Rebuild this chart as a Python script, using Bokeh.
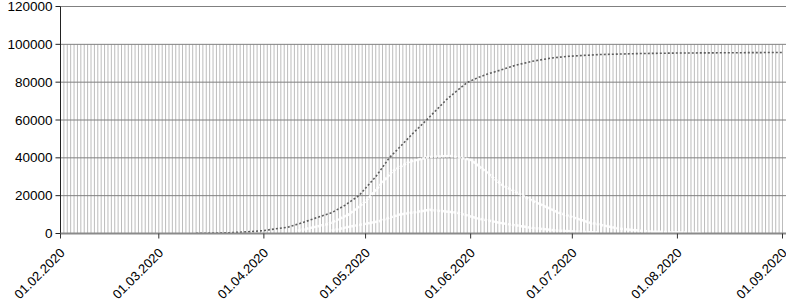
from datetime import datetime, timedelta
import math
import pandas as pd
from bokeh.plotting import figure
from bokeh.models import Range1d, Label
from bokeh.embed import file_html
from bokeh.resources import INLINE

# ---- data ----
cum_dates = ["2020-03-12", "2020-03-17", "2020-03-22", "2020-03-27", "2020-04-01", "2020-04-03",
             "2020-04-08", "2020-04-12", "2020-04-16", "2020-04-21", "2020-04-25", "2020-04-29",
             "2020-05-04", "2020-05-08", "2020-05-11", "2020-05-15", "2020-05-19", "2020-05-25",
             "2020-05-28", "2020-05-31", "2020-06-03", "2020-06-06", "2020-06-10", "2020-06-14",
             "2020-06-19", "2020-06-25", "2020-06-30", "2020-07-09", "2020-07-20", "2020-08-01",
             "2020-09-01"]
cum_values = [100, 200, 400, 900, 1500, 2100,
              3300, 5500, 8000, 11000, 15000, 20000,
              30000, 40000, 45500, 53000, 60000, 71000,
              75500, 79800, 82300, 84300, 86500, 88800,
              91000, 92800, 93700, 94600, 95100, 95400,
              95700]

active_dates = ["2020-04-11", "2020-04-20", "2020-04-26", "2020-05-01", "2020-05-05", "2020-05-09",
                "2020-05-14", "2020-05-20", "2020-05-26", "2020-06-01", "2020-06-06", "2020-06-10",
                "2020-06-19", "2020-06-27", "2020-07-06", "2020-07-15", "2020-07-24", "2020-08-08"]
active_values = [1500, 5000, 10000, 17000, 25000, 33000,
                 38000, 40500, 41000, 39000, 32000, 26000,
                 17500, 11000, 5800, 2500, 1000, 300]

low_dates = ["2020-04-21", "2020-04-26", "2020-05-05", "2020-05-11", "2020-05-20", "2020-05-28",
             "2020-06-03", "2020-06-10", "2020-06-19", "2020-06-27", "2020-07-09"]
low_values = [1500, 3500, 6500, 10000, 12500, 11000,
              8000, 5500, 3000, 1500, 500]

tick_dates = ["2020-02-01", "2020-03-01", "2020-04-01", "2020-05-01",
              "2020-06-01", "2020-07-01", "2020-08-01", "2020-09-01"]
tick_labels = ["01.02.2020", "01.03.2020", "01.04.2020", "01.05.2020",
               "01.06.2020", "01.07.2020", "01.08.2020", "01.09.2020"]
y_ticks = [0, 20000, 40000, 60000, 80000, 100000, 120000]
y_labels = ["0", "20000", "40000", "60000", "80000", "100000", "120000"]
y_max = 120000
day_line_top = 100000

# ---- geometry (pixels of the whole figure; the frame fills it) ----
W, H = 786, 301
axis_px = 60          # column of the value axis (first date)
last_px = 782         # column of the last date tick
zero_px = 233         # row of value 0
top_px = 6            # row of y_max

t0 = pd.Timestamp(tick_dates[0])
t_last = pd.Timestamp(tick_dates[-1])
px_per_day = (last_px - axis_px) / ((t_last - t0).days)
x_start = t0 - pd.Timedelta(days=axis_px / px_per_day)
x_end = x_start + pd.Timedelta(days=W / px_per_day)
per_px = y_max / (zero_px - top_px)
y_end = y_max + top_px * per_px
y_start = -(H - zero_px) * per_px

p = figure(width=W, height=H, x_axis_type="datetime",
           x_axis_location=None, y_axis_location=None,
           output_backend="svg", toolbar_location=None,
           x_range=Range1d(x_start, x_end), y_range=Range1d(y_start, y_end),
           min_border=0, min_border_left=0, min_border_right=0,
           min_border_top=0, min_border_bottom=0)
p.outline_line_color = None
p.background_fill_color = "white"
p.border_fill_color = "white"
p.xgrid.visible = False
p.ygrid.visible = False

# daily vertical lines
days = pd.date_range(tick_dates[0], tick_dates[-1], freq="D")
p.segment(x0=days, y0=[0] * len(days), x1=days, y1=[day_line_top] * len(days),
          line_color="#bcbcbc", line_width=1)

# horizontal grid lines
p.segment(x0=[t0] * len(y_ticks), y0=y_ticks, x1=[x_end] * len(y_ticks), y1=y_ticks,
          line_color="#808080", line_width=1)

# hump curves (white)
p.line(pd.to_datetime(active_dates), active_values, line_color="white",
       line_width=2.5, line_dash="3 1", line_alpha=0.9)
p.line(pd.to_datetime(low_dates), low_values, line_color="white",
       line_width=2.5, line_dash="3 1", line_alpha=0.9)

# cumulative curve
p.line(pd.to_datetime(cum_dates), cum_values, line_color="#5e5e5e",
       line_width=1.6, line_dash="2 2")

font = "Liberation Sans"

# value axis: line, ticks, labels
p.segment(x0=[t0], y0=[0], x1=[t0], y1=[y_max], line_color="#222222", line_width=1)
ytick_x0 = t0 - pd.Timedelta(days=5 / px_per_day)
p.segment(x0=[ytick_x0] * len(y_ticks), y0=y_ticks, x1=[t0] * len(y_ticks), y1=y_ticks,
          line_color="#222222", line_width=1)
for v, lab in zip(y_ticks, y_labels):
    p.add_layout(Label(x=t0, y=v, text=lab, x_offset=-8, y_offset=0,
                       text_align="right", text_baseline="middle",
                       text_font=font, text_font_size="13.5px", text_color="#000000"))

# date axis: line, month ticks, rotated labels
p.segment(x0=[t0], y0=[0], x1=[x_end], y1=[0], line_color="#8a8a8a", line_width=2)
tick_ts = pd.to_datetime(tick_dates)
p.segment(x0=tick_ts, y0=[0] * len(tick_ts), x1=tick_ts, y1=[-5 * per_px] * len(tick_ts),
          line_color="#333333", line_width=1)
for t, lab in zip(tick_ts, tick_labels):
    p.add_layout(Label(x=t, y=0, text=lab, x_offset=2, y_offset=-17, angle=math.pi / 4,
                       text_align="right", text_baseline="middle",
                       text_font=font, text_font_size="13px", text_color="#000000"))

open("out.html", "w").write(file_html(p, INLINE))
